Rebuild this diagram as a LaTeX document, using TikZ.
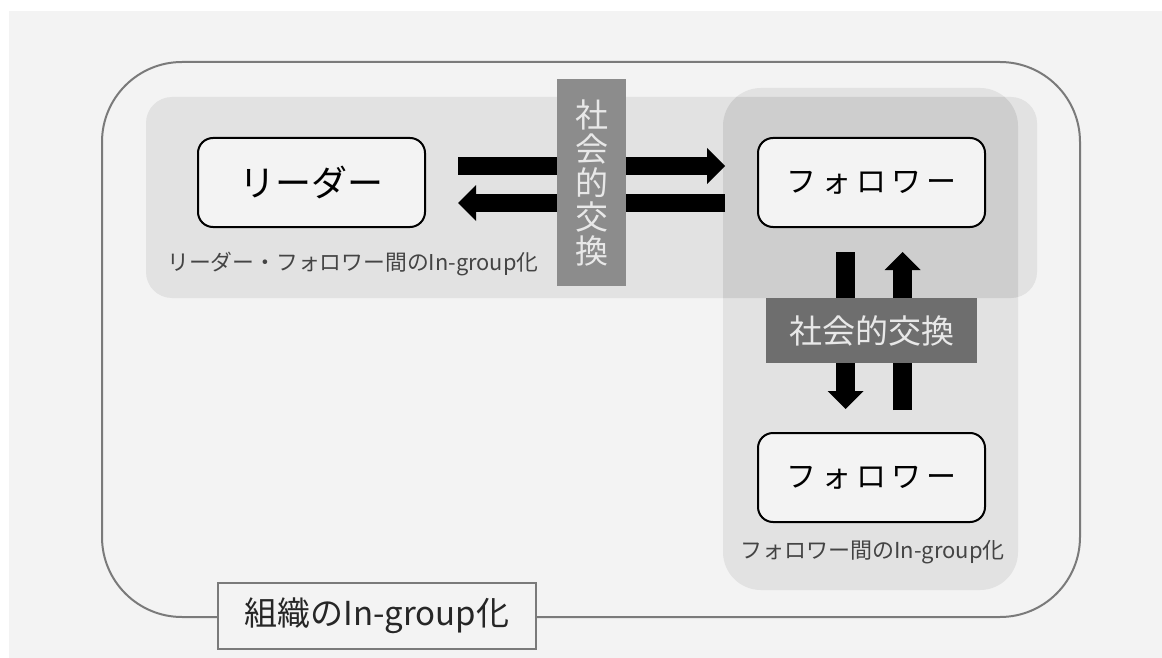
\documentclass[tikz,border=0pt]{standalone}
\usepackage{fontspec}
\setmainfont{Noto Sans CJK JP}
\usetikzlibrary{arrows.meta}
\definecolor{bg}{HTML}{F3F3F3}
\definecolor{band}{HTML}{E2E2E2}
\definecolor{overlap}{HTML}{CECECE}
\definecolor{outerline}{HTML}{7A7A7A}
\definecolor{vbox}{HTML}{8C8C8C}
\definecolor{hbox}{HTML}{6E6E6E}
\definecolor{boxtext}{HTML}{E8E8E8}
\definecolor{labeltext}{HTML}{444444}
\tikzset{
  actor/.style={draw=black, line width=2pt, fill=bg, rounded corners=15pt,
    minimum width=227pt, minimum height=89pt, inner sep=0pt},
  bigarrow/.style={line width=18.5pt, draw=black,
    -{Triangle[length=18pt,width=36pt,line width=0pt]}},
  exchange/.style={inner sep=0pt, text=boxtext, align=center},
  grouplabel/.style={text=labeltext, inner sep=0pt},
}
\begin{document}
\begin{tikzpicture}[x=1pt,y=-1pt]
\useasboundingbox (0,0) rectangle (1162,658);
\fill[white] (0,0) rectangle (1162,658);
\fill[bg] (9,11) rectangle (1162,658);
% outer organisation frame
\draw[outerline, line width=2pt, rounded corners=80pt] (102,62) rectangle (1080,617);
% group bands
\fill[band, rounded corners=26pt] (146,97) rectangle (1037,298);
\fill[band, rounded corners=38pt] (723,88) rectangle (1018,590);
\begin{scope}
  \clip[rounded corners=26pt] (146,97) rectangle (1037,298);
  \fill[overlap, rounded corners=38pt] (723,88) rectangle (1018,590);
\end{scope}
% actors
\node[actor] (leader) at (311.5,182.5) {\fontsize{36}{40}\selectfont リーダー};
\node[actor] (f1) at (871.5,182.5) {\fontsize{30}{34}\selectfont フ\,ォ\,ロ\,ワ\,ー};
\node[actor] (f2) at (871.5,477.5) {\fontsize{30}{34}\selectfont フ\,ォ\,ロ\,ワ\,ー};
% arrows
\draw[bigarrow] ([xshift=32pt,yshift=16.5pt]leader.east) -- ([xshift=-32pt,yshift=16.5pt]f1.west);
\draw[bigarrow] ([xshift=-32pt,yshift=-20.5pt]f1.west) -- ([xshift=32pt,yshift=-20.5pt]leader.east);
\draw[bigarrow] ([xshift=-26pt,yshift=-24pt]f1.south) -- ([xshift=-26pt,yshift=23pt]f2.north);
\draw[bigarrow] ([xshift=31pt,yshift=22pt]f2.north) -- ([xshift=31pt,yshift=-24pt]f1.south);
% social exchange labels
\node[exchange, fill=vbox, minimum width=69pt, minimum height=207pt,
  font=\fontsize{33}{34}\selectfont] (ex1) at (591.5,182.5) {社\\会\\的\\交\\換};
\node[exchange, fill=hbox, minimum width=211pt, minimum height=65pt,
  font=\fontsize{33}{36}\selectfont] (ex2) at (871.5,330.5) {社会的交換};
% group labels
\node[grouplabel, anchor=west, font=\fontsize{21.8}{24}\selectfont] (lfl) at (167,264) {リーダー・フォロワー間のIn-group化};
\node[grouplabel, font=\fontsize{22}{24}\selectfont] (ffl) at (872.5,552) {フォロワー間のIn-group化};
\node[draw=outerline, line width=2pt, fill=bg, minimum width=318pt, minimum height=66pt,
  inner sep=0pt, font=\fontsize{33}{36}\selectfont, text=black!85] (org) at (377,616) {組織のIn-group化};
\end{tikzpicture}
\end{document}
